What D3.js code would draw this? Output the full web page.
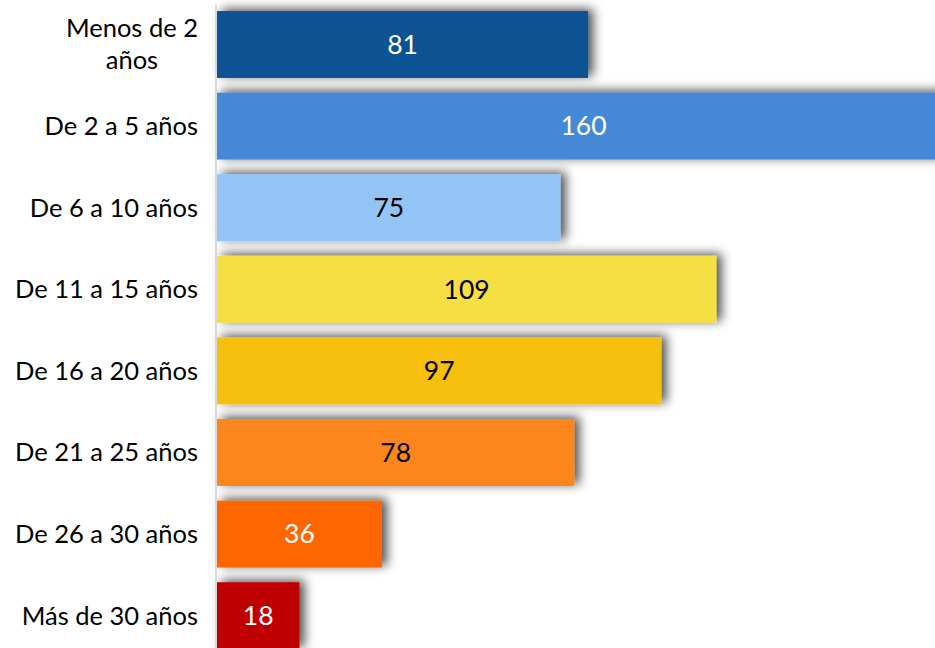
<!DOCTYPE html>
<html>
<head>
<meta charset="utf-8">
<script src="https://cdn.jsdelivr.net/npm/d3@7"></script>
<style>
  body { margin: 0; background: #fff; }
  svg { display: block; font-family: Lato, "Open Sans", sans-serif; }
</style>
</head>
<body>
<div id="chart"></div>
<script>
"use strict";

// categories (\n = forced line break as in the original)
var categories = ["Menos de 2\naños", "De 2 a 5 años", "De 6 a 10 años", "De 11 a 15 años",
                  "De 16 a 20 años", "De 21 a 25 años", "De 26 a 30 años", "Más de 30 años"];
var values = [81, 160, 75, 109, 97, 78, 36, 18];
var barColors = ["#0f5294", "#4589d6", "#92c5f5", "#f5df42", "#f6bf10", "#fd861e", "#ff6600", "#c00000"];
var labelColors = ["#fff", "#fff", "#000", "#000", "#000", "#000", "#fff", "#fff"];

var width = 935, height = 648;
var fontSize = 25.5;

var svg = d3.select("#chart").append("svg")
    .attr("width", width)
    .attr("height", height);

var defs = svg.append("defs");
var shadow = defs.append("filter")
    .attr("id", "shadow")
    .attr("filterUnits", "userSpaceOnUse")
    .attr("x", 0).attr("y", -20)
    .attr("width", 1000).attr("height", 700);
shadow.append("feDropShadow")
    .attr("dx", 5).attr("dy", -2)
    .attr("stdDeviation", 5.5)
    .attr("flood-color", "#000")
    .attr("flood-opacity", 0.7);

var data = categories.map(function(c, i) { return { cat: c, value: values[i], i: i }; });

// the longest bar runs past the right edge in the original, so it gets clipped
var x = d3.scaleLinear().domain([0, 160]).range([217, 950]);
var y = d3.scaleBand().domain(categories).range([3.7, 656.5])
    .paddingInner(0.18).paddingOuter(0.09);

// bars
svg.append("g").selectAll("rect")
    .data(data)
    .enter().append("rect")
    .attr("x", x(0))
    .attr("y", function(d) { return y(d.cat); })
    .attr("width", function(d) { return x(d.value) - x(0); })
    .attr("height", y.bandwidth())
    .attr("fill", function(d) { return barColors[d.i]; })
    .attr("filter", "url(#shadow)");

// vertical axis line
svg.append("line")
    .attr("x1", 216).attr("x2", 216)
    .attr("y1", 5).attr("y2", height)
    .attr("stroke", "#d9d9d9")
    .attr("stroke-width", 2);

// value labels
svg.append("g").selectAll("text")
    .data(data)
    .enter().append("text")
    .attr("x", function(d) { return (x(0) + x(d.value)) / 2; })
    .attr("y", function(d) { return y(d.cat) + y.bandwidth() / 2; })
    .attr("dy", "0.35em")
    .attr("text-anchor", "middle")
    .attr("font-size", 26.5)
    .attr("fill", function(d) { return labelColors[d.i]; })
    .text(function(d) { return d.value; });

// category labels: block right aligned at 198, lines centered in the block
var catG = svg.append("g");
data.forEach(function(d) {
    var lines = d.cat.split("\n");
    var t = catG.append("text")
        .attr("font-size", fontSize)
        .attr("fill", "#000");
    var lh = 32;
    var cy = y(d.cat) + y.bandwidth() / 2;
    lines.forEach(function(l, k) {
        t.append("tspan")
            .attr("y", cy + (k - (lines.length - 1) / 2) * lh)
            .attr("dy", "0.35em")
            .text(l);
    });
    var tspans = t.selectAll("tspan").nodes();
    var maxW = d3.max(tspans, function(n) { return n.getComputedTextLength(); });
    t.selectAll("tspan")
        .attr("x", 198 - maxW / 2)
        .attr("text-anchor", "middle");
});
</script>
</body>
</html>
